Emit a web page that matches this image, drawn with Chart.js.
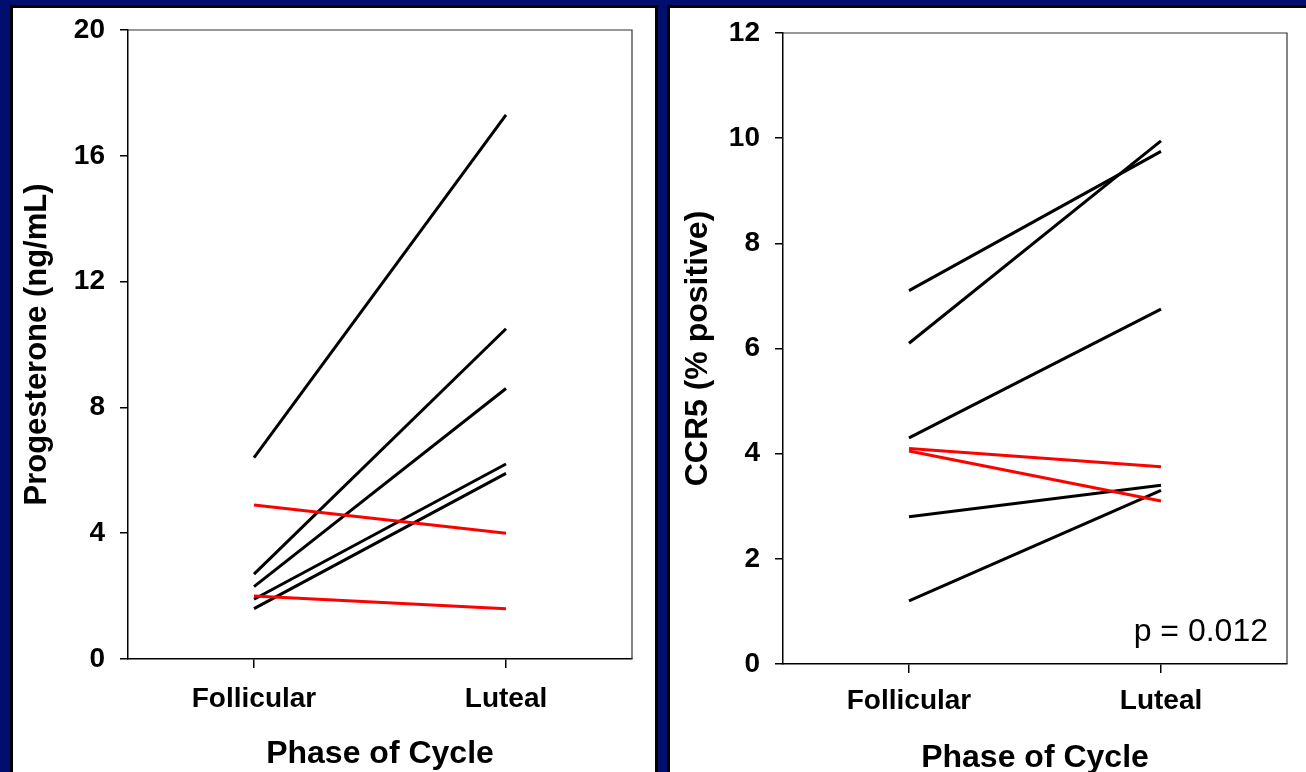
<!DOCTYPE html>
<html><head><meta charset="utf-8">
<script src="https://cdn.jsdelivr.net/npm/chart.js@4.4.1/dist/chart.umd.min.js"></script>
<style>
html,body{margin:0;padding:0;background:#000f6e;width:1306px;height:772px;overflow:hidden;position:relative;}
.panel{position:absolute;background:#fff;box-sizing:border-box;border:3px solid #000;}
#panel1{left:10px;top:5px;width:648px;height:790px;}
#panel2{left:667px;top:5px;width:660px;height:790px;}
.cv{position:absolute;}
#wrap1{left:12px;top:7px;width:644px;height:765px;}
#wrap2{left:669px;top:7px;width:637px;height:765px;}
#ptext{position:absolute;right:38px;top:611px;font:32px "Liberation Sans",Arial,sans-serif;line-height:38px;color:#000;}
</style></head>
<body>
<div class="panel" id="panel1"></div>
<div class="panel" id="panel2"></div>
<div class="cv" id="wrap1"><canvas id="c1" width="644" height="765"></canvas></div>
<div class="cv" id="wrap2"><canvas id="c2" width="637" height="765"></canvas></div>
<div id="ptext">p = 0.012</div>
<script>
// ---- data ----
const phases = ['Follicular', 'Luteal'];
// Progesterone (ng/mL): subjects whose values rose (black) and fell (red)
const progRiseFollicular = [6.4, 2.7, 2.3, 1.9, 1.6];
const progRiseLuteal     = [17.3, 10.5, 8.6, 6.2, 5.9];
const progFallFollicular = [4.9, 2.0];
const progFallLuteal     = [4.0, 1.6];
// CCR5 (% positive)
const ccr5RiseFollicular = [7.1, 6.1, 4.3, 2.8, 1.2];
const ccr5RiseLuteal     = [9.75, 9.95, 6.75, 3.4, 3.3];
const ccr5FallFollicular = [4.1, 4.05];
const ccr5FallLuteal     = [3.75, 3.1];
const progTicks = [0, 4, 8, 12, 16, 20];
const ccr5Ticks = [0, 2, 4, 6, 8, 10, 12];

Chart.defaults.font.family = '"Liberation Sans", Arial, sans-serif';
Chart.defaults.color = '#000';

const framePlugin = {
  id: 'frame',
  afterDraw(chart) {
    const a = chart.chartArea, ctx = chart.ctx;
    ctx.save();
    ctx.strokeStyle = '#333';
    ctx.lineWidth = 1.2;
    ctx.beginPath();
    ctx.moveTo(a.left, a.top); ctx.lineTo(a.right, a.top); ctx.lineTo(a.right, a.bottom);
    ctx.stroke();
    ctx.restore();
  }
};

function buildDatasets(riseF, riseL, fallF, fallL) {
  const ds = [];
  fallF.forEach((v, i) => ds.push({data: [v, fallL[i]], borderColor: '#ff0000', borderWidth: 3, pointRadius: 0, fill: false}));
  riseF.forEach((v, i) => ds.push({data: [v, riseL[i]], borderColor: '#000000', borderWidth: 3, pointRadius: 0, fill: false}));
  return ds;
}

function makeChart(id, datasets, ticks, yTitle, o) {
  return new Chart(document.getElementById(id), {
    type: 'line',
    data: {labels: phases, datasets},
    plugins: [framePlugin],
    options: {
      responsive: false, animation: false,
      plugins: {legend: {display: false}, tooltip: {enabled: false}},
      layout: {padding: {top: o.top, right: o.right, left: 0, bottom: 0}},
      scales: {
        x: {
          type: 'category', offset: true,
          grid: {display: true, drawOnChartArea: false, offset: false, tickLength: 9, color: '#000', lineWidth: 1.5},
          border: {color: '#000', width: 1.5},
          ticks: {font: {size: 28, weight: 'bold'}, color: '#000', padding: o.xtp, maxRotation: 0},
          title: {display: true, text: 'Phase of Cycle', font: {size: 32, weight: 'bold', lineHeight: 1}, color: '#000', padding: {top: 0, bottom: o.xpb}},
          afterFit: s => { s.height = o.xh; s.paddingLeft = 0; s.paddingRight = 0; }
        },
        y: {
          min: ticks[0], max: ticks[ticks.length - 1],
          afterBuildTicks: s => { s.ticks = ticks.map(v => ({value: v})); },
          grid: {display: true, drawOnChartArea: false, tickLength: 8, color: '#000', lineWidth: 1.5},
          border: {color: '#000', width: 1.5},
          ticks: {font: {size: 28, weight: 'bold'}, color: '#000', padding: 15},
          title: {display: true, text: yTitle, font: {size: o.yts, weight: 'bold'}, color: '#000', padding: {top: o.tp, bottom: 0}},
          afterFit: s => { s.width = o.yw; s.paddingTop = 0; s.paddingBottom = 0; }
        }
      }
    }
  });
}

makeChart('c1', buildDatasets(progRiseFollicular, progRiseLuteal, progFallFollicular, progFallLuteal),
  progTicks, 'Progesterone (ng/mL)', {top: 23, right: 24, xh: 113, yw: 116, tp: 7, yts: 31, xtp: 14, xpb: 2});
makeChart('c2', buildDatasets(ccr5RiseFollicular, ccr5RiseLuteal, ccr5FallFollicular, ccr5FallLuteal),
  ccr5Ticks, 'CCR5 (% positive)', {top: 26, right: 19, xh: 108, yw: 114, tp: 10, yts: 32, xtp: 11, xpb: -2});
</script>
</body></html>
